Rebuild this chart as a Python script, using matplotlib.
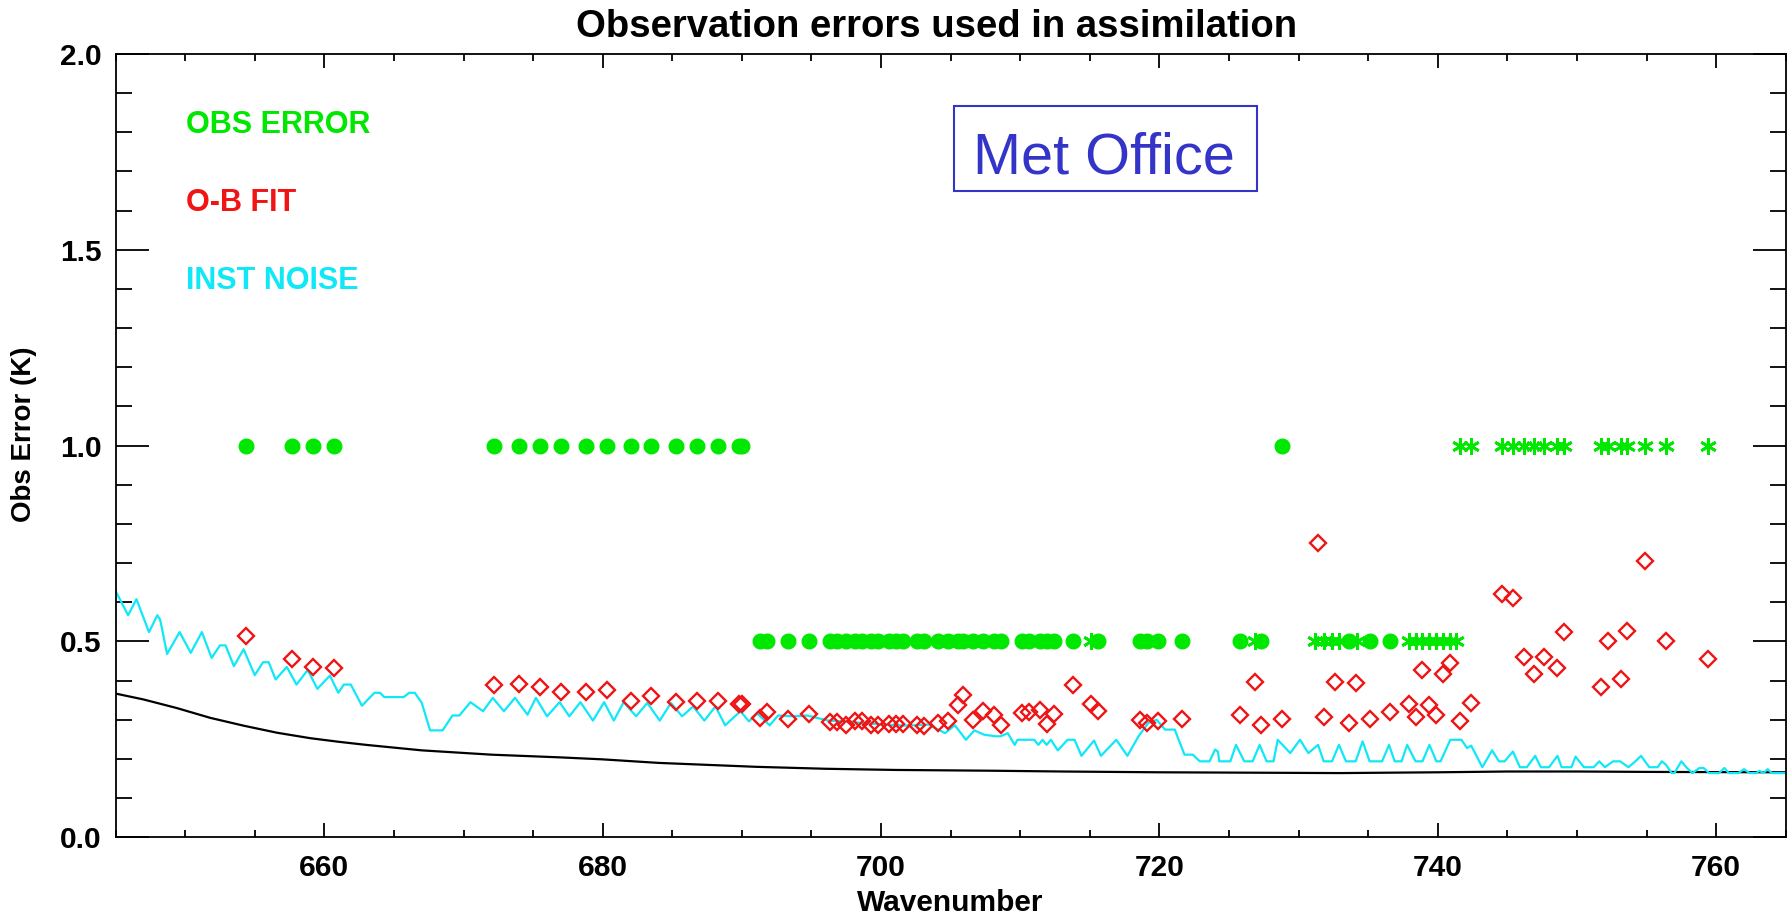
import matplotlib
matplotlib.use('Agg')
import matplotlib.pyplot as plt
from matplotlib.patches import Rectangle
from matplotlib.ticker import MultipleLocator, FormatStrFormatter

plt.rcParams['font.family'] = ['Liberation Sans', 'DejaVu Sans']

GREEN = '#00E800'
RED = '#F01414'
CYAN = '#10E8F8'
BLUE = '#3434C8'

# OBS ERROR: filled circles and asterisks at 1.0 and 0.5
dot1_x = [654.4, 657.7, 659.2, 660.7,
          672.2, 674.0, 675.5, 677.0, 678.8, 680.3, 682.0, 683.5, 685.3,
          686.8, 688.3, 689.8, 690.0, 728.8]
star1_x = [741.6, 742.4, 744.6, 745.4, 746.2, 746.9, 747.6, 748.6, 749.1,
           751.7, 752.2, 753.2, 753.6, 754.9, 756.4, 759.4]
dot05_x = [691.3, 691.8, 693.3, 694.8, 696.3, 696.8, 697.5, 698.1, 698.6,
           699.3, 699.8, 700.6, 701.1, 701.6, 702.6, 703.1, 704.1, 704.8,
           705.5, 705.9, 706.6, 707.3, 708.1, 708.6, 710.1, 710.6, 711.4,
           711.9, 712.4, 713.8, 715.6, 718.6, 719.1, 719.9, 721.6, 725.8,
           727.3, 733.6, 735.1, 736.6]
star05_x = [715.1, 726.9, 731.2, 731.8, 732.4, 732.9, 734.2, 737.9, 738.4,
            738.9, 739.4, 739.9, 740.4, 740.9, 741.3]

# O-B FIT
fit_x = [654.4, 657.7, 659.2, 660.7, 672.2, 674.0, 675.5, 677.0, 678.8,
         680.3, 682.0, 683.5, 685.3, 686.8, 688.3, 689.8, 690.0, 691.3,
         691.8, 693.3, 694.8, 696.3, 696.8, 697.5, 698.1, 698.6, 699.3,
         699.8, 700.6, 701.1, 701.6, 702.6, 703.1, 704.1, 704.8, 705.5,
         705.9, 706.6, 707.3, 708.1, 708.6, 710.1, 710.6, 711.4, 711.9,
         712.4, 713.8, 715.1, 715.6, 718.6, 719.1, 719.9, 721.6, 725.8,
         726.9, 727.3, 728.8, 731.4, 731.8, 732.6, 733.6, 734.1, 735.1,
         736.6, 737.9, 738.4, 738.9, 739.4, 739.9, 740.4, 740.9, 741.6,
         742.4, 744.6, 745.4, 746.2, 746.9, 747.6, 748.6, 749.1, 751.7,
         752.2, 753.2, 753.6, 754.9, 756.4, 759.4]
fit_y = [0.514, 0.455, 0.434, 0.433, 0.388, 0.392, 0.385, 0.372, 0.371,
         0.377, 0.349, 0.360, 0.346, 0.348, 0.348, 0.340, 0.340, 0.305,
         0.321, 0.303, 0.316, 0.295, 0.295, 0.286, 0.298, 0.296, 0.288,
         0.288, 0.289, 0.290, 0.290, 0.288, 0.285, 0.292, 0.296, 0.339,
         0.364, 0.299, 0.322, 0.313, 0.287, 0.318, 0.321, 0.326, 0.290,
         0.316, 0.389, 0.341, 0.322, 0.300, 0.293, 0.296, 0.302, 0.313,
         0.397, 0.288, 0.303, 0.751, 0.308, 0.396, 0.293, 0.394, 0.303,
         0.319, 0.341, 0.307, 0.428, 0.337, 0.312, 0.418, 0.445, 0.297,
         0.343, 0.622, 0.612, 0.460, 0.418, 0.460, 0.433, 0.524, 0.384,
         0.500, 0.403, 0.528, 0.706, 0.501, 0.456]

# INST NOISE
noise_x = [645.0, 645.9, 646.5, 647.4, 648.0, 648.2, 648.7, 649.6, 650.4,
           651.2, 651.9, 652.5, 652.9, 653.5, 654.2, 655.0, 655.6, 656.0,
           656.5, 657.3, 658.0, 658.8, 659.5, 660.4, 661.0, 661.4, 661.9,
           662.7, 663.6, 664.0, 664.3, 665.7, 666.1, 666.5, 667.0, 667.6,
           668.5, 669.2, 669.7, 670.5, 671.4, 672.1, 672.9, 673.7, 674.6,
           675.2, 676.0, 676.9, 677.6, 678.4, 679.3, 680.1, 680.8, 681.5,
           682.4, 683.2, 684.1, 684.9, 685.7, 686.5, 687.3, 688.1, 688.8,
           689.9, 690.5, 691.1, 692.0, 692.6, 693.8, 694.7, 696.2, 697.6,
           698.6, 700.0, 701.9, 703.4, 704.6, 705.3, 706.1, 706.7, 707.4,
           708.2, 708.6, 709.1, 709.6, 709.8, 711.0, 711.3, 711.6, 711.9,
           712.2, 712.7, 713.4, 713.9, 714.4, 715.3, 715.8, 716.9, 717.7,
           718.5, 719.2, 719.8, 720.4, 721.1, 721.8, 722.4, 722.9, 723.6,
           724.0, 724.2, 724.3, 725.1, 725.5, 726.1, 726.7, 727.2, 727.7,
           728.2, 728.5, 729.4, 730.1, 730.7, 731.4, 731.8, 732.4, 732.9,
           733.4, 734.1, 734.6, 735.1, 736.0, 736.5, 736.9, 737.4, 737.8,
           738.4, 738.9, 739.4, 739.9, 740.2, 740.9, 741.7, 742.1, 742.4,
           743.2, 743.9, 744.4, 744.8, 745.4, 745.9, 746.4, 747.0, 747.4,
           748.0, 748.6, 748.9, 749.6, 749.9, 750.5, 751.2, 751.6, 752.0,
           752.6, 753.1, 753.7, 754.2, 754.6, 755.2, 755.8, 756.1, 756.4,
           756.8, 757.0, 757.5, 757.9, 758.3, 758.8, 759.1, 759.5, 760.2,
           760.6, 760.9, 761.6, 762.0, 762.4, 762.9, 763.1, 763.4, 763.7,
           764.0, 765.0]
noise_y = [0.629, 0.567, 0.608, 0.524, 0.567, 0.556, 0.468, 0.524, 0.471,
           0.524, 0.458, 0.490, 0.490, 0.437, 0.480, 0.414, 0.447, 0.447,
           0.403, 0.435, 0.390, 0.427, 0.379, 0.413, 0.369, 0.390, 0.390,
           0.336, 0.369, 0.369, 0.358, 0.358, 0.369, 0.369, 0.343, 0.273,
           0.273, 0.311, 0.311, 0.345, 0.322, 0.356, 0.322, 0.356, 0.313,
           0.356, 0.309, 0.345, 0.309, 0.345, 0.298, 0.345, 0.298, 0.345,
           0.309, 0.343, 0.298, 0.343, 0.309, 0.334, 0.298, 0.334, 0.286,
           0.322, 0.296, 0.316, 0.286, 0.311, 0.309, 0.311, 0.298, 0.296,
           0.292, 0.288, 0.285, 0.288, 0.266, 0.286, 0.249, 0.273, 0.262,
           0.258, 0.258, 0.266, 0.236, 0.249, 0.249, 0.236, 0.249, 0.236,
           0.249, 0.222, 0.249, 0.249, 0.208, 0.247, 0.208, 0.249, 0.208,
           0.258, 0.292, 0.300, 0.275, 0.275, 0.211, 0.211, 0.194, 0.194,
           0.224, 0.219, 0.194, 0.194, 0.236, 0.194, 0.194, 0.236, 0.194,
           0.194, 0.249, 0.215, 0.249, 0.215, 0.236, 0.194, 0.194, 0.236,
           0.194, 0.194, 0.245, 0.194, 0.194, 0.236, 0.194, 0.194, 0.236,
           0.194, 0.194, 0.236, 0.194, 0.194, 0.249, 0.249, 0.228, 0.234,
           0.179, 0.222, 0.194, 0.194, 0.219, 0.179, 0.179, 0.208, 0.179,
           0.179, 0.208, 0.179, 0.179, 0.206, 0.179, 0.179, 0.194, 0.179,
           0.194, 0.194, 0.179, 0.194, 0.208, 0.179, 0.179, 0.194, 0.185,
           0.164, 0.164, 0.194, 0.177, 0.164, 0.177, 0.177, 0.164, 0.164,
           0.177, 0.164, 0.164, 0.174, 0.164, 0.164, 0.170, 0.164, 0.174,
           0.164, 0.164]

# black reference curve
ref_x = [645, 647, 649.4, 651.8, 654.2, 656.6, 659, 661, 663, 667, 672,
         677, 680, 684, 691, 696, 701, 708, 713, 720, 733, 740, 745, 750,
         755, 765]
ref_y = [0.367, 0.352, 0.330, 0.305, 0.285, 0.267, 0.253, 0.244, 0.236,
         0.222, 0.211, 0.204, 0.199, 0.190, 0.180, 0.175, 0.172, 0.170,
         0.168, 0.166, 0.164, 0.166, 0.168, 0.168, 0.167, 0.166]

fig = plt.figure(figsize=(17.92, 9.18), dpi=100)
ax = fig.add_axes([0.0645, 0.0879, 0.9320, 0.8533])

ax.plot(ref_x, ref_y, color='black', lw=1.6)
ax.plot(noise_x, noise_y, color=CYAN, lw=1.6)
ax.plot(fit_x, fit_y, ls='none', marker='D', ms=8, mfc='none', mec=RED, mew=1.7)
ax.plot(dot1_x, [1.0] * len(dot1_x), ls='none', marker='o', ms=10.5, color=GREEN, mec=GREEN)
ax.plot(dot05_x, [0.5] * len(dot05_x), ls='none', marker='o', ms=10.5, color=GREEN, mec=GREEN)
ax.plot(star1_x, [1.0] * len(star1_x), ls='none', marker=(6, 2, 0), ms=12, color=GREEN, mew=2)
ax.plot(star05_x, [0.5] * len(star05_x), ls='none', marker=(6, 2, 0), ms=12, color=GREEN, mew=2)

ax.set_xlim(645, 765)
ax.set_ylim(0, 2)
ax.xaxis.set_major_locator(MultipleLocator(20))
ax.xaxis.set_minor_locator(MultipleLocator(5))
ax.yaxis.set_major_locator(MultipleLocator(0.5))
ax.yaxis.set_minor_locator(MultipleLocator(0.1))
ax.yaxis.set_major_formatter(FormatStrFormatter('%.1f'))

for s in ax.spines.values():
    s.set_linewidth(1.3)
ax.tick_params(axis='both', which='both', direction='in', top=True, right=True, width=1.3)
ax.tick_params(axis='x', which='major', length=10, pad=12)
ax.tick_params(axis='x', which='minor', length=5.3)
ax.tick_params(axis='y', which='major', length=24, pad=10)
ax.tick_params(axis='y', which='minor', length=11.5)
for lab in ax.get_xticklabels() + ax.get_yticklabels():
    lab.set_fontsize(21.5)
    lab.set_fontweight('bold')

ax.set_xlabel('Wavenumber', fontsize=21.5, fontweight='bold', labelpad=5)
ax.set_ylabel('Obs Error (K)', fontsize=20, fontweight='bold', labelpad=14)
ax.yaxis.set_label_coords(-0.047, 0.515)
ax.text(0.4916, 1.022, 'Observation errors used in assimilation', transform=ax.transAxes,
        ha='center', va='baseline', fontsize=27.5, fontweight='bold')

ax.text(0.042, 0.8995, 'OBS ERROR', color=GREEN, transform=ax.transAxes,
        fontsize=22, fontweight='bold', va='baseline')
ax.text(0.042, 0.800, 'O-B FIT', color=RED, transform=ax.transAxes,
        fontsize=22, fontweight='bold', va='baseline')
ax.text(0.042, 0.7004, 'INST NOISE', color=CYAN, transform=ax.transAxes,
        fontsize=22, fontweight='bold', va='baseline')

ax.add_patch(Rectangle((0.502, 0.825), 0.1815, 0.1086, transform=ax.transAxes,
                       fill=False, ec=BLUE, lw=1.5))
ax.text(0.592, 0.847, 'Met Office', color=BLUE, transform=ax.transAxes,
        fontsize=41.5, ha='center', va='baseline')

fig.savefig('out.png', dpi=100)
